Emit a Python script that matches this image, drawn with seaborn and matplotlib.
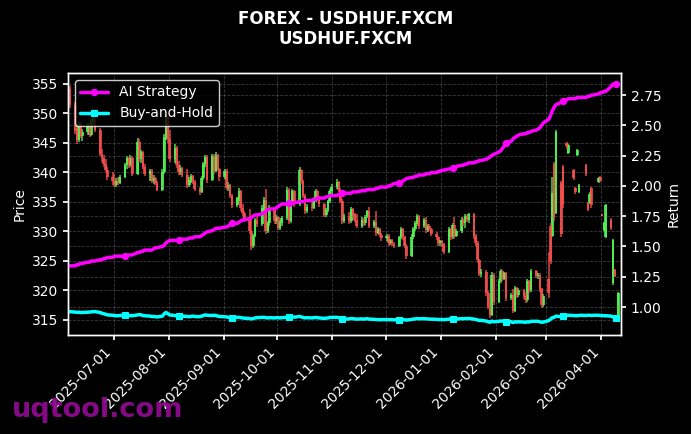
import numpy as np
import pandas as pd
import matplotlib
matplotlib.use("Agg")
import matplotlib.pyplot as plt
import matplotlib.dates as mdates
import matplotlib.ticker as mticker
import seaborn as sns

# Daily candles (open, high, low, close) on business days
ohlc_2025_06 = [
    (353.0, 354.9, 352.0, 354.2), (354.2, 354.6, 351.0, 351.5), (351.5, 352.0, 346.5, 347.0),
    (347.0, 347.5, 344.8, 345.5), (345.5, 348.6, 345.2, 348.2), (348.2, 348.5, 345.8, 346.2),
    (346.2, 347.4, 345.3, 346.9), (346.9, 348.3, 346.4, 347.9), (347.9, 348.4, 346.0, 346.4),
    (346.4, 349.2, 346.1, 348.8), (348.8, 350.9, 348.3, 350.5), (350.5, 350.8, 346.8, 347.2),
    (347.2, 347.6, 342.8, 343.2), (343.2, 343.9, 341.8, 342.4), (342.4, 343.0, 341.0, 341.5),
    (341.5, 342.2, 340.0, 340.4), (340.4, 341.0, 338.8, 339.3), (339.3, 340.0, 337.9, 338.5),
]
ohlc_2025_07 = [
    (338.5, 339.8, 337.6, 337.9), (337.9, 339.0, 337.5, 338.6), (338.6, 339.2, 337.8, 338.2),
    (338.2, 339.6, 338.0, 339.3), (339.3, 341.6, 339.0, 341.2), (341.2, 342.8, 340.6, 342.4),
    (342.4, 342.6, 340.8, 341.3), (341.3, 342.9, 341.0, 342.5), (342.5, 342.7, 339.4, 339.8),
    (339.8, 345.8, 339.5, 345.2), (345.2, 345.6, 341.8, 342.2), (342.2, 343.8, 341.6, 343.4),
    (343.4, 343.6, 340.6, 341.0), (341.0, 341.4, 339.4, 339.8), (339.8, 340.6, 338.6, 340.3),
    (340.3, 340.5, 338.2, 338.6), (338.6, 339.5, 338.0, 339.1), (339.1, 339.3, 337.8, 338.2),
    (338.2, 338.6, 336.8, 337.1), (337.1, 340.5, 336.8, 340.1), (340.1, 346.5, 339.8, 346.0),
    (346.0, 350.3, 345.5, 349.4), (349.4, 349.8, 345.0, 345.6),
]
ohlc_2025_08 = [
    (345.6, 347.2, 341.8, 342.3), (342.3, 344.8, 341.6, 344.2), (344.2, 344.5, 340.8, 341.3),
    (341.3, 342.0, 339.6, 340.0), (340.0, 341.2, 339.5, 340.8), (340.8, 341.0, 339.2, 339.6),
    (339.6, 340.5, 337.4, 337.9), (337.9, 339.2, 337.6, 338.8), (338.8, 339.8, 338.2, 339.4),
    (339.4, 339.6, 338.0, 338.4), (338.4, 338.8, 336.8, 337.2), (337.2, 337.6, 336.2, 336.7),
    (336.7, 339.4, 336.5, 339.0), (339.0, 341.8, 338.7, 341.4), (341.4, 343.0, 341.0, 342.6),
    (342.6, 342.9, 338.2, 338.8), (338.8, 343.2, 338.5, 342.8), (342.8, 343.1, 339.8, 340.3),
    (340.3, 343.4, 340.0, 343.0), (343.0, 343.2, 340.2, 340.6), (340.6, 340.8, 338.6, 339.2),
]
ohlc_2025_09 = [
    (339.2, 340.6, 338.9, 340.2), (340.2, 340.5, 337.0, 337.4), (337.4, 338.4, 336.8, 337.9),
    (337.9, 338.1, 335.6, 336.0), (336.0, 336.4, 334.0, 334.5), (334.5, 335.9, 334.2, 335.6),
    (335.6, 337.3, 335.2, 336.9), (336.9, 337.1, 333.4, 333.9), (333.9, 334.6, 332.6, 333.1),
    (333.1, 333.5, 331.6, 332.0), (332.0, 333.8, 329.6, 330.1), (330.1, 332.6, 326.9, 327.6),
    (327.6, 329.6, 327.2, 329.2), (329.2, 332.3, 329.0, 331.9), (331.9, 333.0, 330.8, 331.3),
    (331.3, 334.4, 331.0, 334.0), (334.0, 335.8, 333.5, 335.4), (335.4, 337.2, 329.5, 330.0),
    (330.0, 331.8, 329.7, 331.4), (331.4, 334.4, 331.0, 334.0), (334.0, 334.2, 331.2, 331.7),
    (331.7, 332.8, 331.2, 332.4),
]
ohlc_2025_10 = [
    (332.4, 332.7, 330.2, 330.6), (330.6, 331.8, 330.3, 331.4), (331.4, 332.6, 331.0, 332.2),
    (332.2, 337.6, 331.9, 337.1), (337.1, 337.4, 331.2, 331.8), (331.8, 335.4, 331.5, 335.0),
    (335.0, 337.2, 334.6, 336.8), (336.8, 337.0, 334.2, 334.6), (334.6, 340.9, 334.3, 340.4),
    (340.4, 340.6, 338.0, 338.5), (338.5, 338.8, 335.6, 336.0), (336.0, 336.3, 333.0, 333.5),
    (333.5, 334.6, 333.2, 334.2), (334.2, 335.4, 333.5, 334.0), (334.0, 335.8, 333.8, 335.5),
    (335.5, 337.2, 335.0, 336.8), (336.8, 337.0, 335.2, 335.6), (335.6, 336.0, 334.1, 334.6),
    (334.6, 334.9, 332.4, 332.8), (332.8, 334.0, 332.5, 333.6), (333.6, 335.4, 333.3, 335.1),
    (335.1, 337.2, 334.8, 336.9), (336.9, 338.0, 336.2, 337.6),
]
ohlc_2025_11 = [
    (337.6, 338.9, 337.2, 338.4), (338.4, 338.6, 336.6, 337.0), (337.0, 337.3, 334.8, 335.2),
    (335.2, 335.5, 331.2, 331.7), (331.7, 333.0, 331.4, 332.6), (332.6, 333.3, 331.3, 331.8),
    (331.8, 334.1, 331.5, 333.8), (333.8, 334.0, 332.4, 332.9), (332.9, 333.2, 331.6, 332.0),
    (332.0, 332.9, 330.5, 331.0), (331.0, 332.4, 330.6, 332.0), (332.0, 332.2, 330.9, 331.4),
    (331.4, 332.8, 331.1, 332.5), (332.5, 333.7, 332.2, 333.4), (333.4, 334.1, 330.5, 330.9),
    (330.9, 331.9, 330.6, 331.6), (331.6, 333.4, 329.3, 329.8), (329.8, 330.8, 329.5, 330.4),
    (330.4, 330.6, 329.0, 329.4), (329.4, 329.8, 328.4, 328.9),
]
ohlc_2025_12 = [
    (328.9, 329.6, 328.4, 329.2), (329.2, 329.5, 327.6, 328.0), (328.0, 328.8, 327.7, 328.5),
    (328.5, 328.7, 327.5, 327.9), (327.9, 328.2, 327.2, 327.6), (327.6, 329.3, 327.4, 329.0),
    (329.0, 330.8, 328.7, 330.4), (330.4, 330.6, 328.6, 329.0), (329.0, 329.2, 327.2, 327.6),
    (327.6, 327.9, 325.4, 325.9), (325.9, 329.5, 325.7, 329.1), (329.1, 330.7, 328.8, 330.4),
    (330.4, 331.8, 330.1, 331.5), (331.5, 332.9, 331.2, 332.6), (332.6, 332.8, 330.4, 330.9),
    (330.9, 332.2, 330.6, 331.9), (331.9, 332.4, 329.8, 330.2), (330.2, 331.3, 329.9, 331.0),
    (331.0, 331.2, 330.1, 330.4), (330.4, 330.6, 329.2, 329.6), (329.6, 329.9, 328.6, 329.0),
    (329.0, 329.3, 327.6, 328.0), (328.0, 328.6, 327.5, 328.3),
]
ohlc_2026_01 = [
    (328.3, 328.5, 327.4, 327.8), (327.8, 328.0, 326.2, 326.6), (326.6, 330.8, 326.4, 330.4),
    (330.4, 330.6, 328.6, 329.0), (329.0, 331.4, 328.8, 331.1), (331.1, 332.4, 328.7, 329.2),
    (329.2, 330.4, 329.0, 330.1), (330.1, 332.4, 329.8, 332.0), (332.0, 332.2, 331.0, 331.4),
    (331.4, 332.9, 330.5, 332.6), (332.6, 332.8, 331.6, 332.0), (332.0, 333.2, 331.5, 332.9),
    (332.9, 333.1, 328.8, 329.3), (329.3, 329.6, 327.6, 328.0), (328.0, 328.3, 324.6, 325.1),
    (325.1, 325.4, 322.4, 322.8), (322.8, 323.6, 322.2, 323.2), (323.2, 323.4, 319.0, 319.5),
    (319.5, 319.9, 316.8, 317.2), (317.2, 317.6, 315.3, 315.9), (315.9, 323.2, 315.6, 322.7),
    (322.7, 323.0, 317.6, 318.1),
]
ohlc_2026_02 = [
    (318.1, 322.0, 317.8, 321.6), (321.6, 323.7, 321.2, 323.3), (323.3, 323.5, 321.6, 322.0),
    (322.0, 323.2, 321.7, 322.9), (322.9, 323.1, 318.2, 318.7), (318.7, 319.6, 318.3, 319.2),
    (319.2, 320.2, 316.1, 316.6), (316.6, 320.8, 316.3, 320.4), (320.4, 320.6, 318.8, 319.3),
    (319.3, 320.5, 318.9, 320.1), (320.1, 320.3, 318.6, 319.0), (319.0, 319.8, 317.8, 318.3),
    (318.3, 322.0, 318.0, 321.6), (321.6, 321.8, 319.6, 320.0), (320.0, 323.7, 319.8, 323.3),
    (323.3, 323.5, 322.1, 322.5), (322.5, 323.0, 322.0, 322.7), (322.7, 322.9, 319.8, 320.2),
    (320.2, 320.5, 317.1, 317.6), (317.6, 319.4, 317.2, 319.0),
]
ohlc_2026_03 = [
    (322.0, 326.5, 318.8, 319.5), (331.0, 331.5, 324.5, 325.0), (329.2, 339.3, 329.0, 336.5),
    (341.5, 341.8, 331.8, 332.5), (333.2, 347.2, 333.0, 346.8), (338.2, 338.6, 329.0, 329.6),
    (340.9, 341.2, 334.0, 334.6), None, (345.0, 345.2, 344.0, 344.4),
    (343.3, 344.8, 343.1, 344.6), (340.4, 340.6, 338.8, 339.1), (337.4, 337.6, 336.4, 336.7),
    (343.0, 344.0, 342.8, 343.8), (336.7, 338.1, 336.5, 337.9), None,
    (341.3, 341.5, 339.4, 339.7), (334.8, 335.0, 333.4, 333.7), (334.8, 336.6, 334.6, 336.4),
    (337.4, 337.6, 334.0, 334.4), None, (338.4, 339.2, 338.2, 339.0),
    (339.2, 339.4, 338.3, 338.6),
]
ohlc_2026_04 = [
    (332.9, 333.0, 332.6, 332.7), (330.3, 331.6, 330.1, 331.4), (329.1, 334.6, 328.9, 334.4),
    (332.0, 332.2, 330.2, 330.5), (321.3, 328.8, 321.0, 328.6), (323.5, 323.7, 322.2, 322.4),
    None, (315.5, 319.8, 315.3, 319.6),
]

# Cumulative return of the two strategies, same business days
ai_2025_06 = [1.33, 1.34, 1.34, 1.35, 1.35, 1.36, 1.36, 1.37, 1.37, 1.38, 1.38, 1.38, 1.39, 1.39, 1.40, 1.40, 1.41, 1.41]
ai_2025_07 = [1.42, 1.42, 1.42, 1.42, 1.42, 1.42, 1.43, 1.43, 1.43, 1.45, 1.45, 1.46, 1.46, 1.47, 1.47, 1.47, 1.48, 1.49, 1.49, 1.50, 1.51, 1.53, 1.54]
ai_2025_08 = [1.55, 1.55, 1.55, 1.55, 1.56, 1.56, 1.56, 1.57, 1.57, 1.57, 1.58, 1.58, 1.59, 1.60, 1.61, 1.62, 1.63, 1.64, 1.65, 1.65, 1.65]
ai_2025_09 = [1.66, 1.66, 1.67, 1.68, 1.69, 1.69, 1.70, 1.71, 1.72, 1.72, 1.73, 1.74, 1.75, 1.76, 1.76, 1.77, 1.78, 1.79, 1.80, 1.81, 1.81, 1.82]
ai_2025_10 = [1.83, 1.84, 1.85, 1.85, 1.86, 1.86, 1.86, 1.86, 1.87, 1.87, 1.87, 1.88, 1.88, 1.88, 1.89, 1.89, 1.90, 1.90, 1.90, 1.91, 1.91, 1.92, 1.92]
ai_2025_11 = [1.92, 1.93, 1.93, 1.94, 1.94, 1.94, 1.94, 1.95, 1.95, 1.95, 1.96, 1.96, 1.96, 1.97, 1.97, 1.97, 1.98, 1.98, 1.99, 1.99]
ai_2025_12 = [1.99, 2.00, 2.00, 2.01, 2.02, 2.02, 2.03, 2.04, 2.05, 2.06, 2.07, 2.07, 2.08, 2.08, 2.09, 2.09, 2.10, 2.10, 2.10, 2.11, 2.11, 2.12, 2.12]
ai_2026_01 = [2.13, 2.13, 2.14, 2.14, 2.15, 2.15, 2.16, 2.17, 2.17, 2.18, 2.18, 2.19, 2.19, 2.20, 2.20, 2.21, 2.21, 2.22, 2.23, 2.24, 2.25, 2.26]
ai_2026_02 = [2.28, 2.29, 2.31, 2.33, 2.35, 2.37, 2.39, 2.40, 2.41, 2.42, 2.43, 2.43, 2.44, 2.44, 2.45, 2.46, 2.47, 2.48, 2.50, 2.52]
ai_2026_03 = [2.55, 2.58, 2.62, 2.65, 2.67, 2.69, 2.70, 2.71, 2.71, 2.72, 2.72, 2.72, 2.73, 2.73, 2.73, 2.73, 2.74, 2.74, 2.75, 2.75, 2.76, 2.77]
ai_2026_04 = [2.77, 2.78, 2.78, 2.82, 2.84, 2.84, 2.84, 2.84]

bh_2025_06 = [0.965, 0.962, 0.958, 0.955, 0.958, 0.955, 0.955, 0.957, 0.958, 0.96, 0.962, 0.962, 0.955, 0.948, 0.945, 0.94, 0.935, 0.932]
bh_2025_07 = [0.93, 0.928, 0.928, 0.93, 0.932, 0.93, 0.928, 0.93, 0.928, 0.935, 0.937, 0.935, 0.93, 0.928, 0.925, 0.922, 0.922, 0.92, 0.918, 0.925, 0.945, 0.955, 0.945]
bh_2025_08 = [0.935, 0.93, 0.928, 0.925, 0.928, 0.925, 0.922, 0.92, 0.922, 0.925, 0.922, 0.92, 0.925, 0.93, 0.935, 0.932, 0.93, 0.932, 0.93, 0.925, 0.922]
bh_2025_09 = [0.92, 0.918, 0.915, 0.912, 0.912, 0.914, 0.915, 0.912, 0.91, 0.908, 0.905, 0.902, 0.905, 0.91, 0.912, 0.914, 0.915, 0.912, 0.91, 0.912, 0.91, 0.912]
bh_2025_10 = [0.912, 0.91, 0.912, 0.915, 0.92, 0.915, 0.918, 0.916, 0.922, 0.918, 0.914, 0.91, 0.912, 0.91, 0.912, 0.914, 0.912, 0.91, 0.906, 0.908, 0.91, 0.914, 0.914]
bh_2025_11 = [0.915, 0.912, 0.908, 0.902, 0.9, 0.902, 0.905, 0.904, 0.902, 0.9, 0.902, 0.9, 0.902, 0.904, 0.9, 0.898, 0.896, 0.896, 0.895, 0.896]
bh_2025_12 = [0.896, 0.895, 0.896, 0.895, 0.894, 0.896, 0.898, 0.896, 0.895, 0.892, 0.898, 0.9, 0.902, 0.905, 0.903, 0.904, 0.902, 0.902, 0.9, 0.9, 0.898, 0.896, 0.897]
bh_2026_01 = [0.897, 0.895, 0.9, 0.899, 0.902, 0.9, 0.901, 0.904, 0.903, 0.905, 0.904, 0.906, 0.9, 0.898, 0.893, 0.889, 0.89, 0.884, 0.878, 0.874, 0.884, 0.878]
bh_2026_02 = [0.882, 0.885, 0.883, 0.884, 0.878, 0.878, 0.872, 0.878, 0.876, 0.878, 0.876, 0.874, 0.878, 0.876, 0.882, 0.882, 0.882, 0.878, 0.874, 0.876]
bh_2026_03 = [0.888, 0.9, 0.912, 0.915, 0.925, 0.92, 0.922, 0.925, 0.93, 0.932, 0.93, 0.93, 0.928, 0.93, 0.932, 0.93, 0.932, 0.932, 0.93, 0.932, 0.932, 0.93]
bh_2026_04 = [0.93, 0.928, 0.928, 0.925, 0.918, 0.915, 0.91, 0.9]

# Assemble into one frame
candles = (ohlc_2025_06 + ohlc_2025_07 + ohlc_2025_08 + ohlc_2025_09 + ohlc_2025_10 + ohlc_2025_11
           + ohlc_2025_12 + ohlc_2026_01 + ohlc_2026_02 + ohlc_2026_03 + ohlc_2026_04)
ai = (ai_2025_06 + ai_2025_07 + ai_2025_08 + ai_2025_09 + ai_2025_10 + ai_2025_11
      + ai_2025_12 + ai_2026_01 + ai_2026_02 + ai_2026_03 + ai_2026_04)
bh = (bh_2025_06 + bh_2025_07 + bh_2025_08 + bh_2025_09 + bh_2025_10 + bh_2025_11
      + bh_2025_12 + bh_2026_01 + bh_2026_02 + bh_2026_03 + bh_2026_04)

dates = pd.bdate_range("2025-06-05", "2026-04-10") + pd.Timedelta(hours=12)
rows = [c if c is not None else (np.nan,) * 4 for c in candles]
df = pd.DataFrame(rows, columns=["Open", "High", "Low", "Close"], index=dates)
df["AI Strategy"] = ai
df["Buy-and-Hold"] = bh
df.index.name = "Date"

# Dark style
sns.set_theme(style="ticks", rc={
    "figure.facecolor": "black", "axes.facecolor": "black", "savefig.facecolor": "black",
    "axes.edgecolor": "white", "axes.labelcolor": "white", "text.color": "white",
    "xtick.color": "white", "ytick.color": "white",
    "axes.grid": True, "grid.color": "#808080", "grid.linestyle": "--",
    "grid.linewidth": 0.6, "grid.alpha": 0.45,
    "xtick.labelsize": 10, "ytick.labelsize": 10, "axes.labelsize": 10,
    "legend.fontsize": 10, "xtick.major.size": 3.5, "ytick.major.size": 3.5,
    "axes.linewidth": 1.0,
})
plt.rcParams["font.family"] = ["DejaVu Sans"]

fig = plt.figure(figsize=(6.91, 4.34), dpi=100)
ax = fig.add_axes([0.0984, 0.2281, 0.8003, 0.6037])

# Candlesticks
up = df["Close"] >= df["Open"]
down = df["Close"] < df["Open"]
for mask, color in [(up, "#55ff55"), (down, "#ff5050")]:
    d = df[mask]
    ax.vlines(d.index, d["Low"], d["High"], color=color, lw=1.2, alpha=0.8)
    ax.bar(d.index, d["Close"] - d["Open"], bottom=d["Open"], width=1.5,
           color=color, alpha=0.8, linewidth=0)

ax.set_ylabel("Price")
ax.set_xlabel("")
ax.set_ylim(312.45, 356.85)
ax.yaxis.set_major_locator(mticker.MultipleLocator(5))

# Strategy returns on the right axis
ax2 = ax.twinx()
sns.lineplot(data=df, x=df.index, y="AI Strategy", ax=ax2, color="#ff00ff", lw=2.5,
             marker="o", markersize=4.5, markeredgecolor="#ff00ff", markevery=(22, 22),
             label="AI Strategy", legend=False)
sns.lineplot(data=df, x=df.index, y="Buy-and-Hold", ax=ax2, color="#00ffff", lw=2.5,
             marker="s", markersize=4.5, markeredgecolor="#00ffff", markevery=(22, 22),
             label="Buy-and-Hold", legend=False)
ax2.set_ylabel("Return")
ax2.set_ylim(0.769, 2.932)
ax2.yaxis.set_major_locator(mticker.MultipleLocator(0.25))
ax2.yaxis.set_major_formatter(mticker.FormatStrFormatter("%.2f"))
ax2.grid(True)
for s in ax2.spines.values():
    s.set_color("white")

ax.set_xlim(pd.Timestamp("2025-06-05 10:00"), pd.Timestamp("2026-04-12 02:00"))
ax.xaxis.set_major_locator(mdates.MonthLocator())
ax.xaxis.set_major_formatter(mdates.DateFormatter("%Y-%m-%d"))
plt.setp(ax.get_xticklabels(), rotation=45, ha="right")
ax.set_xlabel("")

leg = ax2.legend(loc="upper left", facecolor="black", edgecolor="white", labelcolor="white")

fig.suptitle("FOREX - USDHUF.FXCM\nUSDHUF.FXCM", fontsize=12, fontweight="bold",
             color="white", y=0.978)

fig.text(0.017, 0.039, "uqtool.com", fontsize=19.5, fontweight="bold", color="#8e0b8e",
         alpha=0.95, va="baseline", zorder=10)

fig.savefig("out.png", dpi=100, facecolor="black")
